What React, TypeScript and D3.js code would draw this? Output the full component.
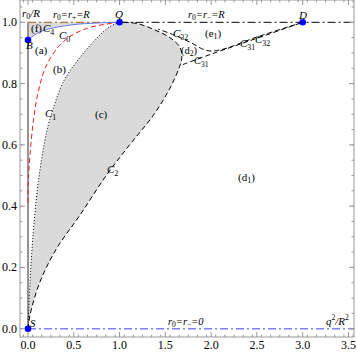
import React from 'react'
import * as d3 from 'd3'

// region borders (q²/R², r0/R)
const c1Pts: [number, number][] = [
  [0, 0], [0.022, 0.153], [0.058, 0.317], [0.113, 0.48], [0.204, 0.643],
  [0.276, 0.719], [0.386, 0.806], [0.53, 0.871], [0.75, 0.948], [0.895, 0.986], [1, 1],
]
const c2Pts: [number, number][] = [
  [0, 0], [0.022, 0.045], [0.131, 0.153], [0.313, 0.262], [0.568, 0.371],
  [0.859, 0.502], [1.11, 0.6], [1.37, 0.697], [1.55, 0.785], [1.655, 0.855],
  [1.68, 0.885], [1.66, 0.918], [1.55, 0.95], [1.37, 0.977], [1.19, 0.996], [1, 1],
]
const c0Pts: [number, number][] = [
  [1, 1], [0.64, 0.98], [0.386, 0.937], [0.204, 0.861], [0.113, 0.774],
  [0.058, 0.676], [0.022, 0.567], [0.003, 0.48], [0, 0.4],
]
const c4Pts: [number, number][] = [
  [0, 0.942], [0.131, 0.969], [0.46, 0.991], [0.79, 0.998], [1, 1],
]
const c31Pts: [number, number][] = [
  [1.69, 0.862], [2.0, 0.896], [2.5, 0.948], [3, 1],
]
const c32Pts: [number, number][] = [
  [1.42, 0.978], [1.6, 0.958], [1.77, 0.935], [1.95, 0.908], [2.1, 0.91],
  [2.5, 0.952], [3, 1],
]
const points = [
  { name: 'Q', q: 1, r: 1 },
  { name: 'D', q: 3, r: 1 },
  { name: 'B', q: 0, r: 0.942 },
  { name: 'S', q: 0, r: 0 },
]
const xTicks = [0, 0.5, 1, 1.5, 2, 2.5, 3, 3.5]
const yTicks = [0, 0.2, 0.4, 0.6, 0.8, 1.0]

const serif = '"Liberation Serif", "DejaVu Serif", serif'

function Sub({ x, y, base, sub, italic = true, size = 11 }: any) {
  return (
    <text x={x} y={y} fontSize={size} fontFamily={serif} fontStyle={italic ? 'italic' : 'normal'}>
      {base}
      <tspan fontSize={size * 0.72} dy={3} fontStyle="normal">{sub}</tspan>
    </text>
  )
}

function Paren({ x, y, letter, sub, size = 11 }: any) {
  return (
    <text x={x} y={y} fontSize={size} fontFamily={serif}>
      ({letter}
      {sub ? <tspan fontSize={size * 0.72} dy={2}>{sub}</tspan> : null}
      {sub ? <tspan dy={-2}>)</tspan> : ')'}
    </text>
  )
}

export default function App() {
  const W = 357, H = 355
  const left = 20, right = 354, top = 0, bottom = 337
  const x = d3.scaleLinear().domain([0, 3]).range([28, 302.7])
  const y = d3.scaleLinear().domain([0, 1]).range([328.7, 22.3])

  const line = d3.line<[number, number]>()
    .x(d => x(d[0])).y(d => y(d[1]))
    .curve(d3.curveCatmullRom.alpha(0.5))

  const shade = line(c1Pts)! + line([...c2Pts].reverse())!.replace(/^M/, 'L') + 'Z'
  const fRegion = `M${x(0)},${y(1)}L${x(1)},${y(1)}` +
    line([...c4Pts].reverse())!.replace(/^M/, 'L') + 'Z'

  const xMinor = d3.range(-0.05, 3.56, 0.1).map(v => +v.toFixed(2)).filter(v => x(v) > left && x(v) < right)
  const yMinor = d3.range(-0.05, 1.08, 0.05).map(v => +v.toFixed(2)).filter(v => y(v) > top && y(v) < bottom)
  const frameCol = '#999'

  return (
    <svg width={W} height={H} style={{ position: 'absolute', left: 0, top: 0 }}>
      <rect width={W} height={H} fill="#fff" />
      <path d={shade} fill="#dadada" stroke="none" />
      <path d={fRegion} fill="#dadada" stroke="none" />

      {/* q = 0 axis */}
      <line x1={x(0)} x2={x(0)} y1={y(0)} y2={y(1)} stroke="#8a8a8a" strokeWidth={1.8} />

      {/* top horizontal r0 = R */}
      <line x1={x(0)} x2={x(1)} y1={y(1)} y2={y(1)} stroke="#b8763a" strokeWidth={1.2} strokeDasharray="8,3,2,3" />
      <line x1={x(1)} x2={right} y1={y(1)} y2={y(1)} stroke="#000" strokeWidth={1} strokeDasharray="8,3,2,3" />
      {/* bottom r0 = 0 */}
      <line x1={x(0)} x2={right} y1={y(0)} y2={y(0)} stroke="#8080ff" strokeWidth={1.6} strokeDasharray="8,3,2,3" />

      <path d={line(c1Pts)!} fill="none" stroke="#000" strokeWidth={1} strokeDasharray="1,2" />
      <path d={line(c2Pts)!} fill="none" stroke="#000" strokeWidth={1} strokeDasharray="5,3" />
      <path d={line(c0Pts)!} fill="none" stroke="#e02020" strokeWidth={1} strokeDasharray="5,3" />
      <path d={line(c4Pts)!} fill="none" stroke="#6a78f0" strokeWidth={1} />
      <path d={line(c31Pts)!} fill="none" stroke="#000" strokeWidth={1} strokeDasharray="5,3" />
      <path d={line(c32Pts)!} fill="none" stroke="#000" strokeWidth={1} strokeDasharray="5,3" strokeDashoffset={3} />

      {points.map(p => (
        <circle key={p.name} cx={x(p.q)} cy={y(p.r)} r={3.3} fill="#0000ff" />
      ))}

      {/* frame */}
      <rect x={left} y={top} width={right - left} height={bottom - top} fill="none" stroke={frameCol} strokeWidth={1} />
      {xMinor.map(v => (
        <g key={'xm' + v} stroke={frameCol}>
          <line x1={x(v)} x2={x(v)} y1={bottom} y2={bottom - 2.5} />
          <line x1={x(v)} x2={x(v)} y1={top} y2={top + 2.5} />
        </g>
      ))}
      {xTicks.map(v => (
        <g key={'x' + v}>
          <line x1={x(v)} x2={x(v)} y1={bottom} y2={bottom - 5} stroke={frameCol} />
          <line x1={x(v)} x2={x(v)} y1={top} y2={top + 5} stroke={frameCol} />
          <text x={x(v)} y={349} textAnchor="middle" fontSize={12} fontFamily={serif}>{v.toFixed(1)}</text>
        </g>
      ))}
      {yMinor.map(v => (
        <g key={'ym' + v} stroke={frameCol}>
          <line x1={left} x2={left + 2.5} y1={y(v)} y2={y(v)} />
          <line x1={right} x2={right - 2.5} y1={y(v)} y2={y(v)} />
        </g>
      ))}
      {yTicks.map(v => (
        <g key={'y' + v}>
          <line x1={left} x2={left + 5} y1={y(v)} y2={y(v)} stroke={frameCol} />
          <line x1={right} x2={right - 5} y1={y(v)} y2={y(v)} stroke={frameCol} />
          <text x={17} y={y(v) + 4} textAnchor="end" fontSize={12} fontFamily={serif}>{v.toFixed(1)}</text>
        </g>
      ))}

      {/* annotations */}
      <text x={22} y={17} fontSize={11} fontFamily={serif} fontStyle="italic">
        r<tspan fontSize={8} dy={2} fontStyle="normal">0</tspan><tspan dy={-2}>/R</tspan>
      </text>
      <text x={53} y={18} fontSize={10.5} fontFamily={serif} fontStyle="italic">
        r<tspan fontSize={7.5} dy={2} fontStyle="normal">0</tspan><tspan dy={-2}>=r</tspan><tspan fontSize={7.5} dy={2} fontStyle="normal">+</tspan><tspan dy={-2}>=R</tspan>
      </text>
      <text x={188} y={18} fontSize={10.5} fontFamily={serif} fontStyle="italic">
        r<tspan fontSize={7.5} dy={2} fontStyle="normal">0</tspan><tspan dy={-2}>=r</tspan><tspan fontSize={7.5} dy={2} fontStyle="normal">−</tspan><tspan dy={-2}>=R</tspan>
      </text>
      <text x={168} y={325} fontSize={10.5} fontFamily={serif} fontStyle="italic">
        r<tspan fontSize={7.5} dy={2} fontStyle="normal">0</tspan><tspan dy={-2}>=r</tspan><tspan fontSize={7.5} dy={2} fontStyle="normal">−</tspan><tspan dy={-2}>=0</tspan>
      </text>
      <text x={326} y={325} fontSize={11} fontFamily={serif} fontStyle="italic">
        q<tspan fontSize={7.5} dy={-5} fontStyle="normal">2</tspan><tspan dy={5}>/R</tspan><tspan fontSize={7.5} dy={-5} fontStyle="normal">2</tspan>
      </text>

      <text x={115} y={18} fontSize={11} fontFamily={serif} fontStyle="italic">Q</text>
      <text x={299} y={19} fontSize={11} fontFamily={serif} fontStyle="italic">D</text>
      <text x={26} y={49} fontSize={11} fontFamily={serif} fontStyle="italic">B</text>
      <text x={30} y={327} fontSize={11} fontFamily={serif} fontStyle="italic">S</text>

      <Paren x={31} y={32} letter="f" />
      <Sub x={43} y={32} base="C" sub="4" />
      <Paren x={35} y={54} letter="a" />
      <Sub x={59} y={39} base="C" sub="0" />
      <Paren x={53} y={73} letter="b" />
      <Sub x={45} y={117} base="C" sub="1" />
      <Paren x={95} y={118} letter="c" />
      <Sub x={107} y={173} base="C" sub="2" />
      <Paren x={238} y={181} letter="d" sub="1" />
      <Sub x={173} y={37} base="C" sub="32" />
      <Paren x={205} y={37} letter="e" sub="1" />
      <Paren x={181} y={54} letter="d" sub="2" size={10.5} />
      <Sub x={194} y={64} base="C" sub="31" size={10.5} />
      <Sub x={240} y={47} base="C" sub="31" />
      <Sub x={255} y={43} base="C" sub="32" />
    </svg>
  )
}
